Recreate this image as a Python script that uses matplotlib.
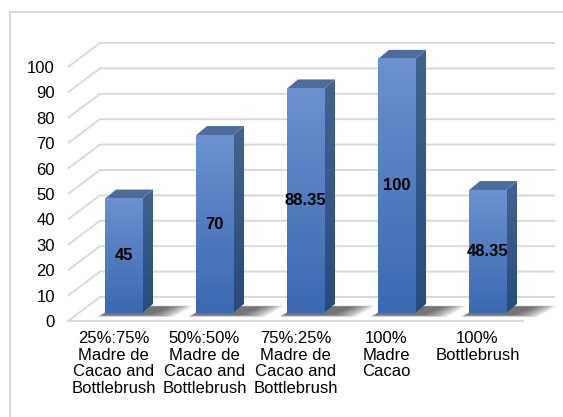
import matplotlib
matplotlib.use("Agg")
import matplotlib.pyplot as plt
import numpy as np
from matplotlib.patches import Polygon
from matplotlib.lines import Line2D
from matplotlib.colors import LinearSegmentedColormap

plt.rcParams['font.family'] = ['Liberation Sans', 'DejaVu Sans']

# Chart data
categories = ["25%:75%\nMadre de\nCacao and\nBottlebrush",
              "50%:50%\nMadre de\nCacao and\nBottlebrush",
              "75%:25%\nMadre de\nCacao and\nBottlebrush",
              "100%\nMadre\nCacao",
              "100%\nBottlebrush"]
values = [45, 70, 88.35, 100, 48.35]
value_labels = ["45", "70", "88.35", "100", "48.35"]
yticks = list(range(0, 101, 10))

# Pseudo-3D geometry (in data units: x = category slot, y = value)
wall_dx, wall_dy = 0.352, 9.45      # depth of the floor / side wall
front_dx, front_dy = 0.11, 3.15     # bar front plane offset from floor front
bar_dx, bar_dy = 0.121, 3.6         # bar depth
bar_w = 0.407

fig = plt.figure(figsize=(5.63, 4.17), dpi=100)
ax = fig.add_axes([68 / 563, 96 / 417, 455 / 563, 254 / 417])

grid_col = "#d9d9d9"
# Gridlines: diagonal on the side wall, then horizontal on the back wall
for v in yticks:
    ax.plot([0, wall_dx, 5 + wall_dx], [v, v + wall_dy, v + wall_dy],
            color=grid_col, lw=1.4, clip_on=False, zorder=1, solid_capstyle="butt")
# Floor front edge
ax.plot([0, 5], [0, 0], color=grid_col, lw=1.4, clip_on=False, zorder=1)

front_cmap = LinearSegmentedColormap.from_list("front", ["#3a69b2", "#6b91cf"])
side_cmap = LinearSegmentedColormap.from_list("side", ["#284b7d", "#44628f"])
grad = np.linspace(0, 1, 100).reshape(-1, 1)

for i, (v, lab) in enumerate(zip(values, value_labels)):
    cx = i + 0.5 + front_dx
    xl, xr = cx - bar_w / 2, cx + bar_w / 2
    y0 = front_dy
    top = y0 + v

    # soft shadow on the floor
    for k in range(7):
        g = k * 0.02
        shadow = Polygon([(xl - 0.03 - g * 0.5, y0 - 0.8 - g * 6), (xr + 0.1 + g * 2, y0 - 0.8 - g * 6),
                          (xr + bar_dx + 0.2 + g * 2, y0 + bar_dy * 0.7 + g * 3),
                          (xl + bar_dx, y0 + bar_dy * 0.7 + g * 3)],
                         closed=True, facecolor="#1a1a1a", edgecolor="none",
                         alpha=0.12, clip_on=False, zorder=2)
        ax.add_patch(shadow)

    # side face
    side = Polygon([(xr, y0), (xr + bar_dx, y0 + bar_dy), (xr + bar_dx, top + bar_dy), (xr, top)],
                   closed=True, facecolor="none", edgecolor="none", clip_on=False, zorder=3)
    ax.add_patch(side)
    im = ax.imshow(grad, cmap=side_cmap, origin="lower", aspect="auto",
                   extent=[xr, xr + bar_dx, y0, top + bar_dy], zorder=3)
    im.set_clip_path(side)
    im.set_clip_box(fig.bbox)

    # top face
    ax.add_patch(Polygon([(xl, top), (xr, top), (xr + bar_dx, top + bar_dy), (xl + bar_dx, top + bar_dy)],
                         closed=True, facecolor="#4d6c9c", edgecolor="none", clip_on=False, zorder=3))

    # front face with gradient
    ax.imshow(grad, cmap=front_cmap, origin="lower", aspect="auto",
              extent=[xl, xr, y0, top], zorder=4, clip_on=False)

    ax.text(cx, y0 + v / 2, lab, ha="center", va="center", fontsize=12,
            fontweight="bold", color="black", zorder=5)

ax.set_xlim(0, 5)
ax.set_ylim(0, 100)
ax.set_xticks([i + 0.5 for i in range(len(categories))])
ax.set_xticklabels(categories, fontsize=12, linespacing=1.15)
ax.set_yticks(yticks)
ax.set_yticklabels([str(t) for t in yticks], fontsize=12)
ax.tick_params(axis="both", length=0)
ax.tick_params(axis="y", pad=9.5)
ax.tick_params(axis="x", pad=7)
for s in ax.spines.values():
    s.set_visible(False)
ax.set_facecolor("none")

# Chart area border (right and bottom edges lie outside the picture)
fig.add_artist(Line2D([10 / 563, 10 / 563], [0, 1 - 12 / 417], color="#d9d9d9", lw=1.5))
fig.add_artist(Line2D([10 / 563, 1], [1 - 12 / 417, 1 - 12 / 417], color="#d9d9d9", lw=1.5))

fig.savefig("out.png", dpi=100)
